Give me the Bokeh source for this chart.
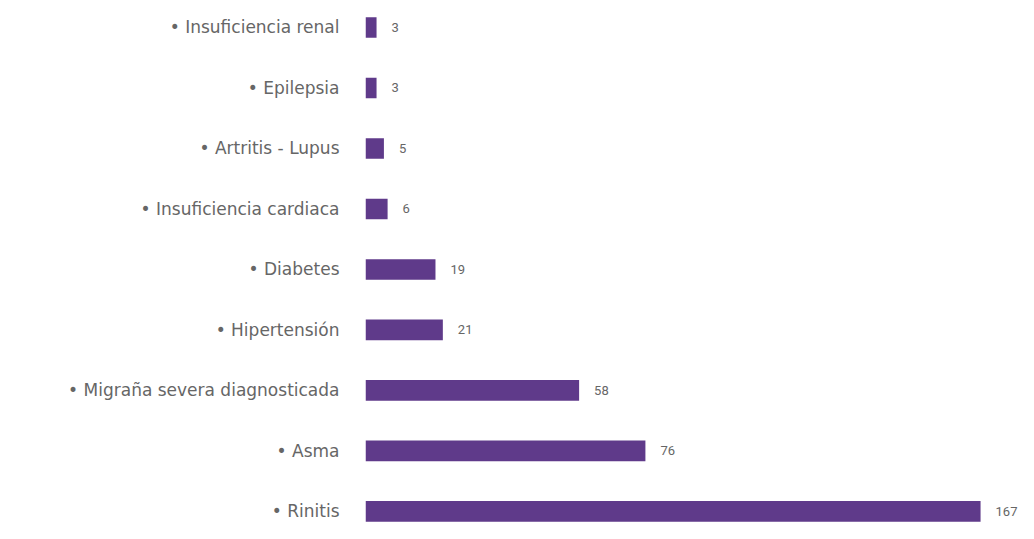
from bokeh.plotting import figure
from bokeh.models import ColumnDataSource, Range1d, FixedTicker, LabelSet
from bokeh.core.properties import value
from bokeh.embed import file_html
from bokeh.resources import INLINE

categories = ["• Rinitis", "• Asma", "• Migraña severa diagnosticada", "• Hipertensión",
              "• Diabetes", "• Insuficiencia cardiaca", "• Artritis - Lupus",
              "• Epilepsia", "• Insuficiencia renal"]
counts = [167, 76, 58, 21, 19, 6, 5, 3, 3]

pos = list(range(len(categories)))
src = ColumnDataSource(dict(y=pos, v=counts, lbl=[str(c) for c in counts]))

p = figure(width=1018, height=523, output_backend="svg", toolbar_location=None,
           x_range=Range1d(0, 177.3), y_range=Range1d(-0.2, 8.445),
           min_border_left=365, min_border_right=0, min_border_top=0, min_border_bottom=0)

p.hbar(y="y", right="v", left=0, height=0.34, source=src, color="#5f3a8a", line_color=None)
labels = LabelSet(x="v", y="y", text="lbl", source=src, x_offset=15, text_baseline="middle",
                  text_font=value("Roboto"), text_font_size="13px", text_color="#666666")
p.add_layout(labels)

p.xaxis.visible = False
p.yaxis.ticker = FixedTicker(ticks=pos)
p.yaxis.major_label_overrides = {i: c for i, c in zip(pos, categories)}
p.yaxis.axis_line_color = None
p.yaxis.major_tick_line_color = None
p.yaxis.minor_tick_line_color = None
p.yaxis.major_label_standoff = 20
p.yaxis.major_label_text_font = "DejaVu Sans"
p.yaxis.major_label_text_font_size = "17px"
p.yaxis.major_label_text_color = "#666666"
p.xgrid.visible = False
p.ygrid.visible = False
p.outline_line_color = None

open("out.html", "w").write(file_html(p, INLINE))
